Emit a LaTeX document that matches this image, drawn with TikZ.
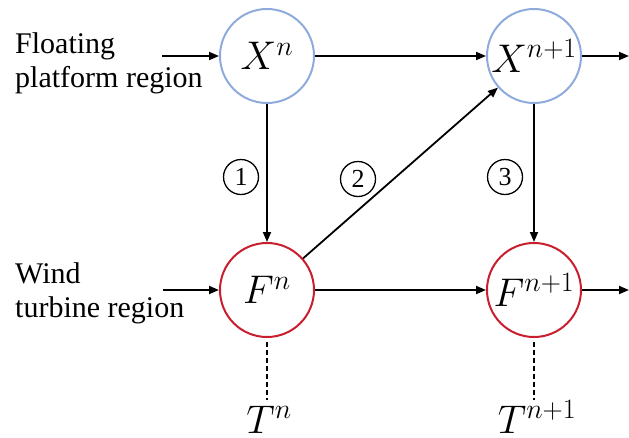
\RequirePackage{fix-cm}
\documentclass[tikz,border=0pt]{standalone}
\usepackage{fontspec}
\setmainfont{Liberation Serif}
\usetikzlibrary{arrows.meta}
\definecolor{nodeblue}{RGB}{143,170,220}
\definecolor{nodered}{RGB}{200,30,45}
\begin{document}
\begin{tikzpicture}[x=1pt,y=-1pt,
  state/.style={circle, draw, line width=2pt, minimum size=94pt, inner sep=0pt, font=\fontsize{40}{44}\selectfont},
  fp/.style={state, draw=nodeblue},
  wt/.style={state, draw=nodered},
  flow/.style={line width=1.8pt, -{Triangle[length=10pt,width=8pt]}},
  stepnum/.style={circle, draw, line width=1.3pt, minimum size=35pt, inner sep=0pt, font=\fontsize{26}{28}\selectfont},
  region/.style={align=left, anchor=west, inner sep=0pt, font=\fontsize{30}{34}\selectfont},
  tlabel/.style={inner sep=0pt, anchor=base, font=\fontsize{40}{44}\selectfont},
  dashline/.style={line width=1.5pt, dash pattern=on 5pt off 3pt}
]
\useasboundingbox (0,0) rectangle (629,437);

\node[fp] (Xn)  at (267,56) {$X^n$};
\node[fp] (Xn1) at (534,56) {$X^{n+1}$};
\node[wt] (Fn)  at (267,290) {$F^n$};
\node[wt] (Fn1) at (534,290) {$F^{n+1}$};

\node[region] (lfp) at (15,63) {Floating\\platform region};
\node[region] (lwt) at (15,293) {Wind\\turbine region};

\node[tlabel] (Tn)  at (269,433) {$T^n$};
\node[tlabel] (Tn1) at (537,433) {$T^{n+1}$};

\node[stepnum] (s1) at (241,177) {1};
\node[stepnum] (s2) at (358,179) {2};
\node[stepnum] (s3) at (505,177) {3};

\coordinate (inX) at (162,56);
\coordinate (inF) at (163,290);
\coordinate (outX) at (629,56);
\coordinate (outF) at (629,290);

\draw[flow] (inX) -- (Xn);
\draw[flow] (inF) -- (Fn);
\draw[flow] (Xn) -- (Xn1);
\draw[flow] (Fn) -- (Fn1);
\draw[flow] (Xn1) -- (outX);
\draw[flow] (Fn1) -- (outF);
\draw[flow] (Xn) -- (Fn);
\draw[flow] (Xn1) -- (Fn1);
\draw[flow] (Fn) -- (Xn1);

\draw[dashline] ([yshift=-4pt]Fn.south) -- ([yshift=-62pt]Fn.south);
\draw[dashline] ([yshift=-4pt]Fn1.south) -- ([yshift=-62pt]Fn1.south);
\end{tikzpicture}
\end{document}
